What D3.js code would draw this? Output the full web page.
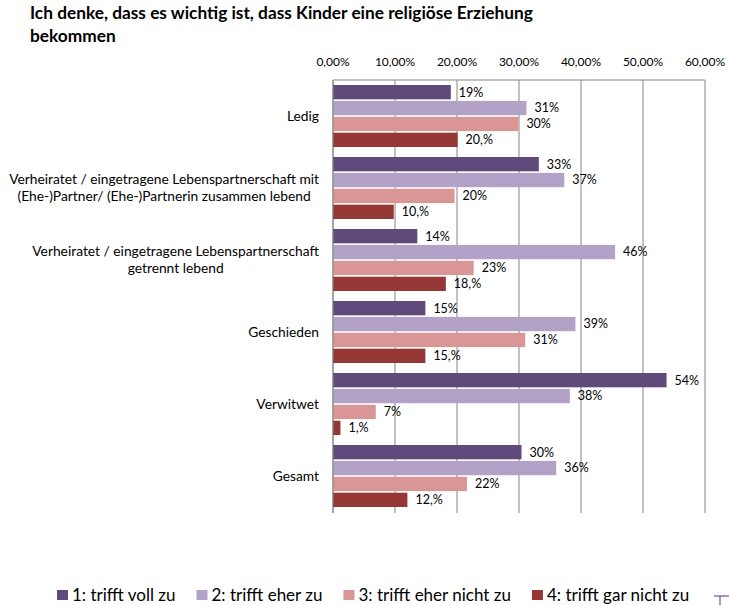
<!DOCTYPE html>
<html>
<head>
<meta charset="utf-8">
<script src="https://cdn.jsdelivr.net/npm/d3@7"></script>
<style>
  body { margin: 0; background: #fff; }
  svg { font-family: Lato, "Open Sans", sans-serif; }
</style>
</head>
<body>
<svg id="chart" width="729" height="605"></svg>
<script>
var titleLines = ["Ich denke, dass es wichtig ist, dass Kinder eine religiöse Erziehung", "bekommen"];

var categories = [
  ["Ledig"],
  ["Verheiratet / eingetragene Lebenspartnerschaft mit", "(Ehe-)Partner/ (Ehe-)Partnerin zusammen lebend"],
  ["Verheiratet / eingetragene Lebenspartnerschaft", "getrennt lebend"],
  ["Geschieden"],
  ["Verwitwet"],
  ["Gesamt"]
];

var seriesNames = ["1: trifft voll zu", "2: trifft eher zu", "3: trifft eher nicht zu", "4: trifft gar nicht zu"];
var seriesColors = ["#604a7b", "#b3a2c7", "#d99694", "#953735"];

// percent values
var trifftVoll = [19.0, 33.2, 13.6, 14.9, 53.8, 30.4];
var trifftEher = [31.2, 37.3, 45.5, 39.1, 38.2, 36.0];
var eherNicht = [29.9, 19.6, 22.7, 31.0, 6.9, 21.6];
var garNicht = [20.1, 9.8, 18.2, 14.9, 1.2, 12.0];

var tickValues = [0, 10, 20, 30, 40, 50, 60];

var series = [trifftVoll, trifftEher, eherNicht, garNicht];

var svg = d3.select("#chart");

var x = d3.scaleLinear().domain([0, 60]).range([333, 705]);
var y = d3.scaleBand().domain(d3.range(categories.length)).range([80, 512])
  .paddingInner(0.139).paddingOuter(0.0695);
var ys = d3.scaleBand().domain(d3.range(series.length)).range([0, y.bandwidth()])
  .paddingInner(0.1);

// title
svg.append("g").selectAll("text")
  .data(titleLines)
  .enter()
  .append("text")
  .attr("x", 30)
  .attr("y", function(d, i) { return 19 + i * 23; })
  .attr("font-size", "17.3px")
  .attr("font-weight", "bold")
  .attr("fill", "#000")
  .text(function(d) { return d; });

// gridlines + top axis
var grid = svg.append("g");
grid.selectAll("line")
  .data(tickValues)
  .enter()
  .append("line")
  .attr("x1", function(d) { return x(d); })
  .attr("x2", function(d) { return x(d); })
  .attr("y1", 80)
  .attr("y2", 513)
  .attr("stroke", "#868686")
  .attr("stroke-width", 1);

grid.append("line")
  .attr("x1", x(0)).attr("x2", x(60))
  .attr("y1", 80).attr("y2", 80)
  .attr("stroke", "#868686");

svg.append("g").selectAll("text")
  .data(tickValues)
  .enter()
  .append("text")
  .attr("x", function(d) { return x(d); })
  .attr("y", 66)
  .attr("text-anchor", "middle")
  .attr("font-size", "12px")
  .attr("fill", "#000")
  .text(function(d) { return d + ",00%"; });

// bars
var groups = svg.append("g").selectAll("g")
  .data(categories)
  .enter()
  .append("g")
  .attr("transform", function(d, i) { return "translate(0," + y(i) + ")"; });

groups.each(function(c, ci) {
  var g = d3.select(this);
  series.forEach(function(vals, si) {
    var v = vals[ci];
    g.append("rect")
      .attr("x", x(0))
      .attr("y", ys(si))
      .attr("width", x(v) - x(0))
      .attr("height", ys.bandwidth())
      .attr("fill", seriesColors[si]);
    g.append("text")
      .attr("x", x(v) + 8)
      .attr("y", ys(si) + ys.bandwidth() / 2)
      .attr("dy", "0.35em")
      .attr("font-size", "12.5px")
      .attr("fill", "#000")
      .text(Math.round(v) + (si === 3 ? ",%" : "%"));
  });
});

// left axis line
svg.append("line")
  .attr("x1", x(0)).attr("x2", x(0))
  .attr("y1", 80).attr("y2", 513)
  .attr("stroke", "#868686");

// category labels: block right aligned, lines centred within block
categories.forEach(function(lines, ci) {
  var g = svg.append("g");
  var texts = g.selectAll("text")
    .data(lines)
    .enter()
    .append("text")
    .attr("font-size", "13.8px")
    .attr("fill", "#000")
    .attr("text-anchor", "middle")
    .text(function(d) { return d; });
  var w = d3.max(texts.nodes(), function(n) { return n.getComputedTextLength(); });
  var cy = y(ci) + y.bandwidth() / 2;
  var lh = 17;
  texts
    .attr("x", 319 - w / 2)
    .attr("y", function(d, i) { return cy + (i - (lines.length - 1) / 2) * lh; })
    .attr("dy", "0.35em");
});

// legend
var legend = svg.append("g");
var lx = 57;
seriesNames.forEach(function(name, i) {
  legend.append("rect")
    .attr("x", lx)
    .attr("y", 590)
    .attr("width", 11)
    .attr("height", 10)
    .attr("fill", seriesColors[i]);
  var t = legend.append("text")
    .attr("x", lx + 15)
    .attr("y", 601)
    .attr("font-size", "17px")
    .attr("fill", "#000")
    .text(name);
  lx += 15 + t.node().getComputedTextLength() + 21;
});

// small cut-off mark at the bottom right corner
svg.append("path")
  .attr("d", "M714,596 H729 M720,596 V605")
  .attr("stroke", "#8e6fa8")
  .attr("stroke-width", 1.5)
  .attr("fill", "none");
</script>
</body>
</html>
